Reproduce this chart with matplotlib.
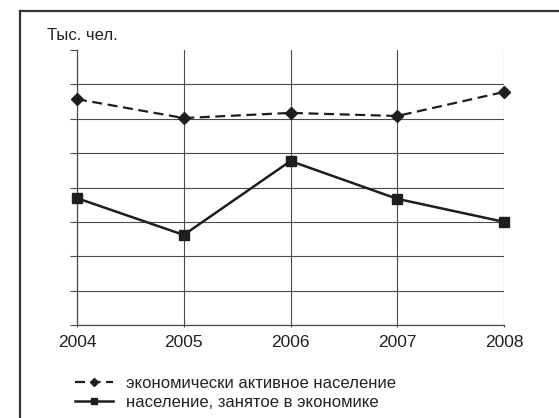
import matplotlib.pyplot as plt

plt.rcParams['font.family'] = ['Liberation Sans', 'DejaVu Sans']

years = [2004, 2005, 2006, 2007, 2008]
active = [6.57, 6.02, 6.17, 6.08, 6.78]      # экономически активное население
employed = [3.69, 2.62, 4.77, 3.67, 3.00]    # население, занятое в экономике
labels = ['экономически активное население', 'население, занятое в экономике']

ink = '#1e1e1e'
grid_c = '#4a4a4a'

fig = plt.figure(figsize=(5.59, 4.18), dpi=100)
ax = fig.add_axes([77 / 559, 1 - 325 / 418, 427 / 559, 275 / 418])

ax.plot(years, active, color=ink, lw=1.6, ls=(0, (4.5, 2.5)), marker='D', ms=6.5,
        label=labels[0], zorder=3, clip_on=False)
ax.plot(years, employed, color=ink, lw=1.8, marker='s', ms=6.5,
        label=labels[1], zorder=3, clip_on=False)

ax.set_xlim(2004, 2008)
ax.set_ylim(0, 8)
ax.set_xticks(years)
ax.set_yticks(range(0, 9))
ax.set_yticklabels([])
ax.grid(True, color=grid_c, lw=0.8)
ax.yaxis.get_gridlines()[-1].set_visible(False)   # верхней линии сетки нет
for s in ['top', 'right']:
    ax.spines[s].set_visible(False)
for s in ['left', 'bottom']:
    ax.spines[s].set_color(grid_c)
    ax.spines[s].set_linewidth(0.9)
ax.tick_params(axis='y', direction='out', length=5.2, width=0.8, color=grid_c)
ax.tick_params(axis='x', direction='out', length=1.5, width=0.8, color=grid_c,
               labelsize=12.5, pad=6, labelcolor='#222222')

fig.text(47 / 559, 1 - 36 / 418, 'Тыс. чел.', fontsize=12, va='center',
         ha='left', color='#222222')

fig.legend(loc='upper left', bbox_to_anchor=(60 / 559, 1 - 361 / 418),
           frameon=False, fontsize=12, handlelength=2.3, handletextpad=0.75,
           labelspacing=0.25, markerscale=0.6, numpoints=1,
           labelcolor='#222222')

# рамка
fig.add_artist(plt.Line2D([20 / 559, 20 / 559], [0, 1 - 11 / 418],
                          transform=fig.transFigure, color='#333333', lw=1.6))
fig.add_artist(plt.Line2D([20 / 559, 1], [1 - 11 / 418, 1 - 11 / 418],
                          transform=fig.transFigure, color='#333333', lw=1.6))

plt.savefig('out.png', dpi=100)
